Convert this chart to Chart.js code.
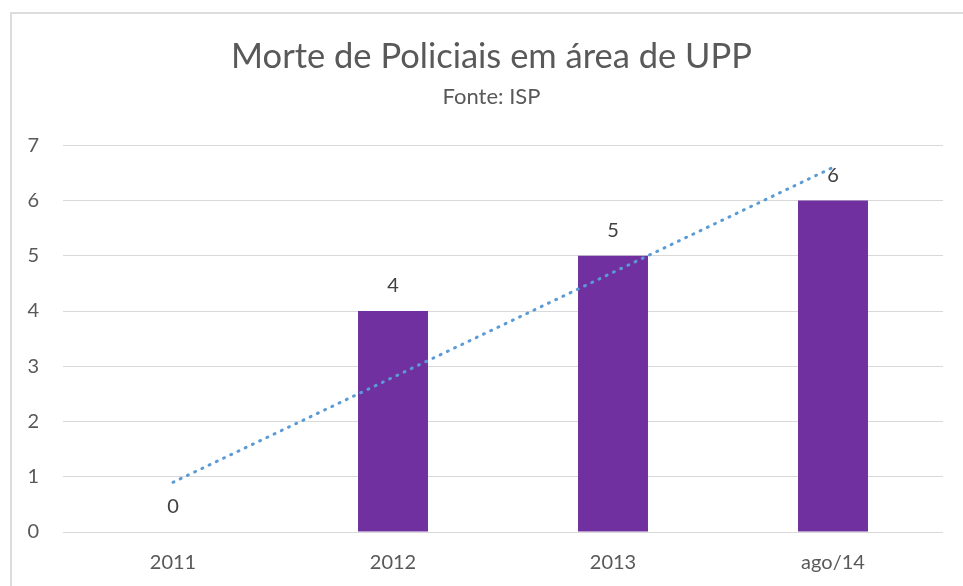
<!DOCTYPE html>
<html>
<head>
<meta charset="utf-8">
<script src="https://cdn.jsdelivr.net/npm/chart.js@4/dist/chart.umd.min.js"></script>
<style>
  html, body { margin: 0; padding: 0; background: #fff; overflow: hidden; }
  #wrap { position: absolute; left: 0; top: 0; width: 963px; height: 586px; }
</style>
</head>
<body>
<div id="wrap"><canvas id="grafico"></canvas></div>
<script>
// Dados
const categorias = ['2011', '2012', '2013', 'ago/14'];
const mortes = [0, 4, 5, 6];
const tendencia = [0.9, 2.8, 4.7, 6.6];
const ticksY = [0, 1, 2, 3, 4, 5, 6, 7];

const fonte = 'Lato, "Open Sans", sans-serif';

// moldura cinza do gráfico
const moldura = {
  id: 'moldura',
  beforeDraw(chart) {
    const ctx = chart.ctx;
    ctx.save();
    ctx.strokeStyle = '#dcdcdc';
    ctx.lineWidth = 2;
    ctx.strokeRect(11, 13, 980, 600);
    ctx.restore();
  }
};

// rótulos de valor acima das barras
const rotulos = {
  id: 'rotulos',
  afterDatasetsDraw(chart) {
    const ctx = chart.ctx;
    const meta = chart.getDatasetMeta(0);
    ctx.save();
    ctx.font = '20px ' + fonte;
    ctx.fillStyle = '#404040';
    ctx.textAlign = 'center';
    ctx.textBaseline = 'middle';
    meta.data.forEach((bar, i) => {
      ctx.fillText(String(mortes[i]), bar.x, bar.y - 25);
    });
    ctx.restore();
  }
};

new Chart(document.getElementById('grafico'), {
  data: {
    labels: categorias,
    datasets: [
      {
        type: 'bar',
        data: mortes,
        backgroundColor: '#7030A0',
        barPercentage: 0.318,
        categoryPercentage: 1,
        order: 2
      },
      {
        type: 'line',
        data: tendencia,
        borderColor: '#5B9BD5',
        borderWidth: 3,
        borderDash: [1, 7],
        borderCapStyle: 'round',
        pointRadius: 0,
        fill: false,
        tension: 0,
        order: 1
      }
    ]
  },
  options: {
    responsive: true,
    maintainAspectRatio: false,
    animation: false,
    // o título fica centrado na moldura, que passa da borda direita
    layout: { padding: { left: 20, right: 0, top: 0, bottom: 11 } },
    plugins: {
      legend: { display: false },
      tooltip: { enabled: false },
      title: {
        display: true,
        text: 'Morte de Policiais em área de UPP',
        color: '#595959',
        font: { family: fonte, size: 34.5, weight: 'normal' },
        padding: { top: 36.3, bottom: 6.4 }
      },
      subtitle: {
        display: true,
        text: 'Fonte: ISP',
        color: '#595959',
        font: { family: fonte, size: 22, weight: 'normal' },
        padding: { top: 0, bottom: 34.8 }
      }
    },
    scales: {
      x: {
        afterFit(scale) { scale.height = 43; },
        grid: { display: false, drawTicks: false },
        border: { display: false },
        ticks: {
          color: '#595959',
          font: { family: fonte, size: 20 },
          padding: 19
        }
      },
      y: {
        min: 0,
        max: 7,
        afterFit(scale) { scale.width = 43; },
        afterBuildTicks(scale) { scale.ticks = ticksY.map(v => ({ value: v })); },
        grid: { color: '#d9d9d9', lineWidth: 1, drawTicks: false },
        border: { display: false },
        ticks: {
          color: '#595959',
          font: { family: fonte, size: 20 },
          padding: 24
        }
      },
      // eixo vazio só para a margem direita da área do gráfico
      margem: {
        position: 'right',
        afterFit(scale) { scale.width = 20; },
        grid: { display: false, drawTicks: false },
        border: { display: false },
        ticks: { display: false }
      }
    }
  },
  plugins: [moldura, rotulos]
});
</script>
</body>
</html>
